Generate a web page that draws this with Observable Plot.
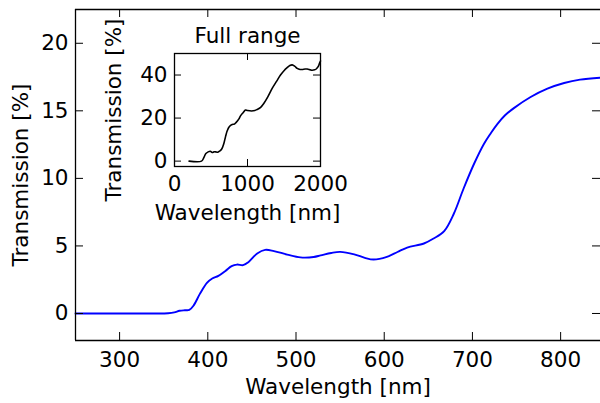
<!DOCTYPE html>
<html>
<head>
<meta charset="utf-8">
<script src="https://cdn.jsdelivr.net/npm/d3@7"></script>
<script src="https://cdn.jsdelivr.net/npm/@observablehq/plot@0.6"></script>
<style>
  html, body { margin: 0; padding: 0; background: #fff; }
  #wrap { position: relative; width: 600px; height: 403px; overflow: hidden; }
  #wrap svg { position: absolute; left: 0; top: 0; }
</style>
</head>
<body>
<div id="wrap"></div>
<script>
// Main spectrum (visible range)
const wavelength = [250, 300, 340, 355, 362, 368, 374, 379, 384, 391, 399, 405, 412, 420, 427, 433, 440, 446, 456, 465, 475, 490, 505, 520, 528, 540, 550, 566, 578, 588, 603, 615, 626, 645, 656, 668, 679, 690, 702, 713, 721, 728, 737, 747, 766, 785, 804, 822, 845];
const transmission = [0, 0, 0, 0.02, 0.08, 0.2, 0.24, 0.26, 0.6, 1.45, 2.27, 2.59, 2.78, 3.15, 3.5, 3.62, 3.58, 3.8, 4.44, 4.71, 4.62, 4.36, 4.15, 4.18, 4.3, 4.48, 4.56, 4.38, 4.12, 3.99, 4.19, 4.55, 4.88, 5.18, 5.55, 6.1, 7.4, 9.25, 11.1, 12.55, 13.36, 14.0, 14.67, 15.2, 16.02, 16.64, 17.06, 17.31, 17.45];

// Inset: full range
const fullWavelength = [200, 370, 400, 430, 461, 490, 516, 540, 562, 590, 616, 645, 676, 700, 721, 750, 790, 820, 845, 880, 904, 940, 973, 1000, 1055, 1100, 1132, 1180, 1223, 1280, 1338, 1400, 1452, 1500, 1543, 1580, 1612, 1650, 1680, 1720, 1749, 1790, 1818, 1860, 1886, 1920, 1941, 1970, 1986, 2000];
const fullTransmission = [0, 0, 1.5, 3.5, 4.3, 4.6, 4.0, 4.3, 4.3, 4.1, 4.6, 5.5, 8.2, 11.5, 14, 16, 17, 17.2, 18, 19.5, 21, 22.5, 23.7, 23.5, 23.3, 23.5, 24, 25, 26.8, 30, 33.8, 37.2, 40, 42, 43.4, 44.4, 44.7, 44, 43.1, 42.6, 42.6, 42.8, 42.8, 42.4, 42.2, 42.4, 42.8, 44, 45.4, 46.5];

const xTicks = [300, 400, 500, 600, 700, 800];
const yTicks = [0, 5, 10, 15, 20];
const insetXTicks = [0, 1000, 2000];
const insetYTicks = [0, 20, 40];

const xLabel = "Wavelength [nm]";
const yLabel = "Transmission [%]";
const insetTitle = "Full range";

const mainData = wavelength.map((w, i) => ({w, t: transmission[i]}));
const fullData = fullWavelength.map((w, i) => ({w, t: fullTransmission[i]}));

const FONT = "DejaVu Sans";
const FS = 21.5;
const fmt = d => String(d);

// ---------- Main chart ----------
const W = 600, H = 403;
const mL = 75, mT = 9, mB = 63, mR = 0;
const innerW = W - mL - mR, innerH = H - mT - mB;
const xDom = [250, 845.2], yDom = [-2, 22.5];
const tk = 8;

const main = Plot.plot({
  width: W, height: H,
  marginLeft: mL, marginTop: mT, marginBottom: mB, marginRight: mR,
  x: {domain: xDom},
  y: {domain: yDom},
  style: {fontFamily: FONT, fontSize: FS + "px", background: "transparent", color: "black", overflow: "visible"},
  marks: [
    Plot.line(mainData, {x: "w", y: "t", stroke: "#0000ff", strokeWidth: 1.9, curve: "catmull-rom"}),
    // ticks pointing inward on all four sides
    Plot.tickX(xTicks, {x: d => d, insetTop: innerH - tk, stroke: "black", strokeWidth: 1}),
    Plot.tickX(xTicks, {x: d => d, insetBottom: innerH - tk, stroke: "black", strokeWidth: 1}),
    Plot.tickY(yTicks, {y: d => d, insetRight: innerW - tk, stroke: "black", strokeWidth: 1}),
    Plot.tickY(yTicks, {y: d => d, insetLeft: innerW - tk, stroke: "black", strokeWidth: 1}),
    // frame
    Plot.ruleX([xDom[0]], {stroke: "black", strokeWidth: 1.3}),
    Plot.ruleY([yDom[0]], {stroke: "black", strokeWidth: 1.3}),
    Plot.ruleY([yDom[1]], {stroke: "black", strokeWidth: 1.3}),
    Plot.axisX({ticks: xTicks, tickSize: 0, tickPadding: 11, fontSize: FS, label: null, tickFormat: fmt}),
    Plot.axisY({ticks: yTicks, tickSize: 0, tickPadding: 7, fontSize: FS, label: null, tickFormat: fmt}),
    Plot.text([xLabel], {text: d => d, frameAnchor: "bottom", dy: 47, fontSize: FS, lineAnchor: "middle", textAnchor: "middle", fill: "black"}),
    Plot.text([yLabel], {text: d => d, frameAnchor: "left", dx: -54, rotate: -90, fontSize: FS, lineAnchor: "middle", textAnchor: "middle", fill: "black"})
  ]
});

// ---------- Inset ----------
const iW = 340, iH = 240;
const iL = 174, iT = 53, iR = iW - 320, iB = iH - 166;
const iInnerW = iW - iL - iR, iInnerH = iH - iT - iB;
const ixDom = [0, 2000], iyDom = [-2.5, 50];
const itk = 7;

const inset = Plot.plot({
  width: iW, height: iH,
  marginLeft: iL, marginTop: iT, marginBottom: iB, marginRight: iR,
  x: {domain: ixDom},
  y: {domain: iyDom},
  style: {fontFamily: FONT, fontSize: FS + "px", background: "transparent", color: "black", overflow: "visible"},
  marks: [
    Plot.frame({fill: "white", stroke: "none"}),
    Plot.line(fullData, {x: "w", y: "t", stroke: "black", strokeWidth: 1.6, curve: "catmull-rom"}),
    Plot.tickX(insetXTicks, {x: d => d, insetTop: iInnerH - itk, stroke: "black", strokeWidth: 1}),
    Plot.tickX(insetXTicks, {x: d => d, insetBottom: iInnerH - itk, stroke: "black", strokeWidth: 1}),
    Plot.tickY(insetYTicks, {y: d => d, insetRight: iInnerW - itk, stroke: "black", strokeWidth: 1}),
    Plot.tickY(insetYTicks, {y: d => d, insetLeft: iInnerW - itk, stroke: "black", strokeWidth: 1}),
    Plot.frame({stroke: "black", strokeWidth: 1.3}),
    Plot.axisX({ticks: insetXTicks, tickSize: 0, tickPadding: 9, fontSize: FS, label: null, tickFormat: fmt}),
    Plot.axisY({ticks: insetYTicks, tickSize: 0, tickPadding: 7, fontSize: FS, label: null, tickFormat: fmt}),
    Plot.text([insetTitle], {text: d => d, frameAnchor: "top", dy: -17, fontSize: FS, lineAnchor: "middle", textAnchor: "middle", fill: "black"}),
    Plot.text([xLabel], {text: d => d, frameAnchor: "bottom", dy: 46.5, fontSize: FS, lineAnchor: "middle", textAnchor: "middle", fill: "black"}),
    Plot.text([yLabel], {text: d => d, frameAnchor: "left", dx: -60, rotate: -90, fontSize: FS, lineAnchor: "middle", textAnchor: "middle", fill: "black"})
  ]
});

const wrap = document.getElementById("wrap");
wrap.appendChild(main);
wrap.appendChild(inset);
</script>
</body>
</html>
